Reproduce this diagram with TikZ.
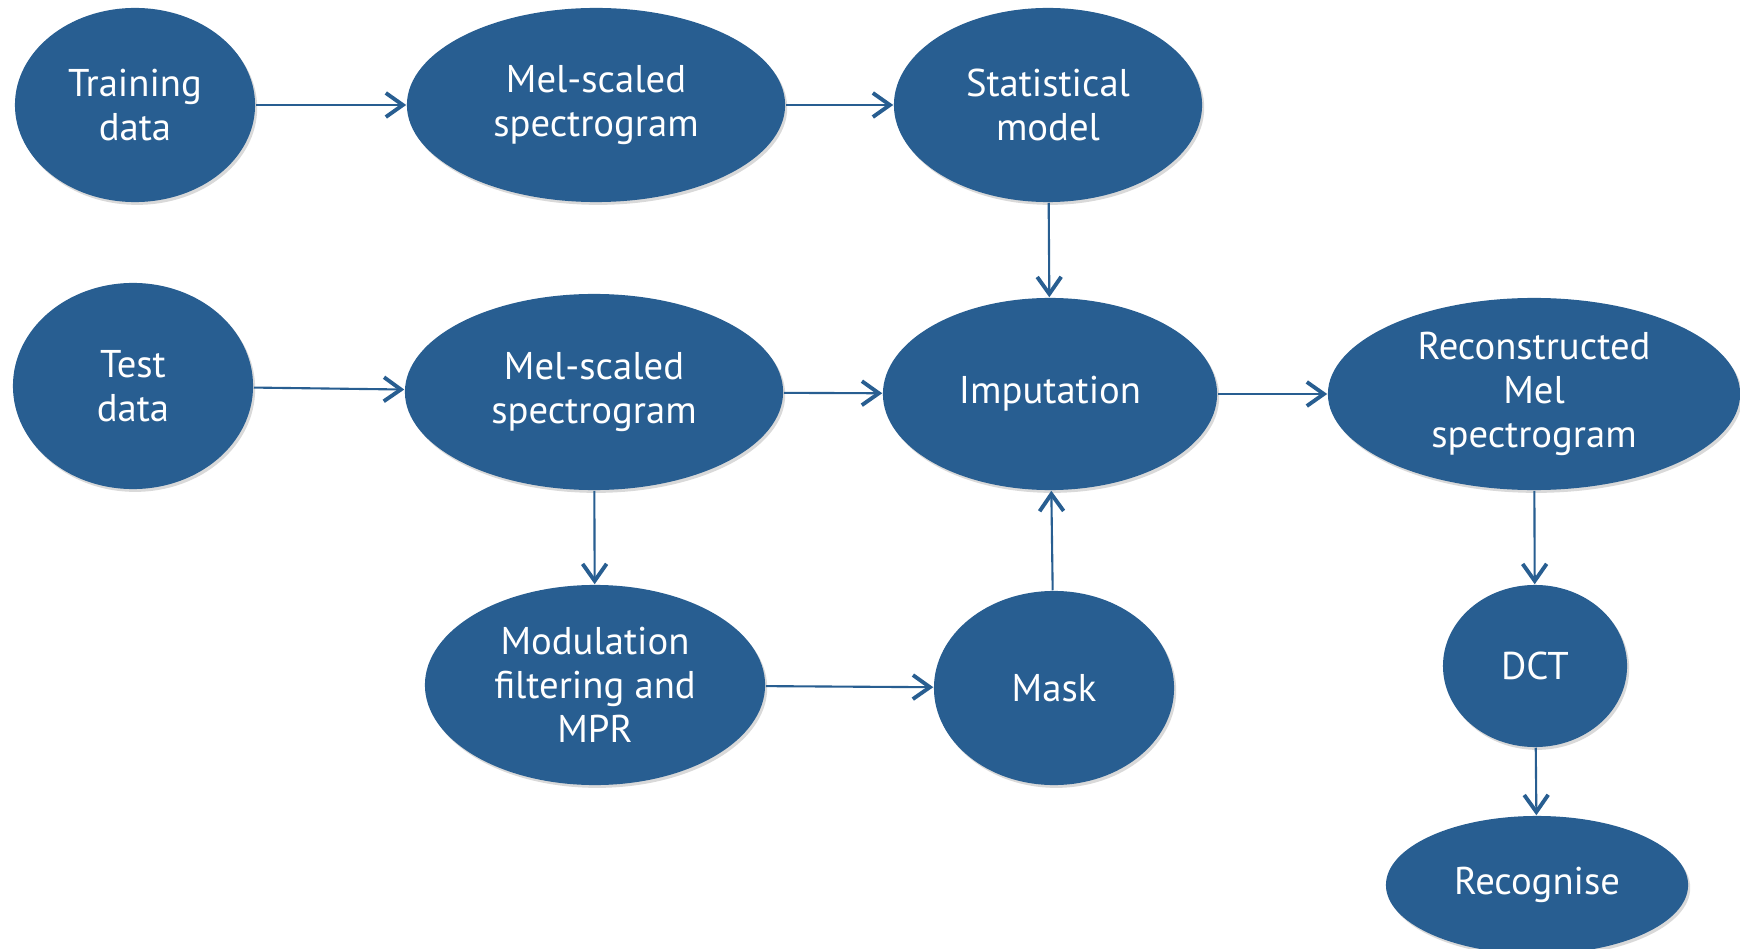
\documentclass[tikz,border=0pt]{standalone}
\usepackage{fontspec}
\setmainfont{PT Sans}
\usetikzlibrary{shapes.geometric,shadows,arrows.meta}
\definecolor{stepblue}{RGB}{40,94,145}
\tikzset{
  blob/.style={ellipse, fill=stepblue, text=white, align=center, inner sep=0pt,
    font=\fontsize{11}{12.5}\selectfont,
    drop shadow={opacity=0.3, shadow xshift=0.6pt, shadow yshift=-0.8pt}},
  flow/.style={draw=stepblue, line width=0.6pt,
    -{Straight Barb[length=1.7mm,width=2.4mm,line width=1.1pt]}}
}
\begin{document}
\begin{tikzpicture}[x=0.01cm,y=-0.01cm]
  \useasboundingbox (0,0) rectangle (1740,949);

  % training branch
  \node[blob, minimum width=2.40cm, minimum height=1.94cm] (train) at (135,105) {Training\\data};
  \node[blob, minimum width=3.78cm, minimum height=1.94cm] (melA) at (596,105) {Mel-scaled\\spectrogram};
  \node[blob, minimum width=3.08cm, minimum height=1.94cm] (stat) at (1048,105) {Statistical\\model};

  % test branch
  \node[blob, minimum width=2.40cm, minimum height=2.06cm] (test) at (133,386) {Test\\data};
  \node[blob, minimum width=3.78cm, minimum height=1.96cm] (melB) at (594,392) {Mel-scaled\\spectrogram};
  \node[blob, minimum width=3.34cm, minimum height=1.92cm] (imp) at (1050,394) {Imputation};
  \node[blob, minimum width=4.12cm, minimum height=1.92cm] (recon) at (1534,394) {Reconstructed\\Mel\\spectrogram};

  \node[blob, minimum width=3.40cm, minimum height=2.00cm] (modf) at (595,685) {Modulation\\filtering and\\MPR};
  \node[blob, minimum width=2.40cm, minimum height=1.94cm] (mask) at (1054,688) {Mask};
  \node[blob, minimum width=1.84cm, minimum height=1.62cm] (dct) at (1535,666) {DCT};
  \node[blob, minimum width=3.02cm, minimum height=1.38cm] (recog) at (1537,885) {Recognise};

  \draw[flow] (train) -- (melA);
  \draw[flow] (melA) -- (stat);
  \draw[flow] (stat) -- (imp);
  \draw[flow] (test) -- (melB);
  \draw[flow] (melB) -- (imp);
  \draw[flow] (imp) -- (recon);
  \draw[flow] (melB) -- (modf);
  \draw[flow] (modf) -- (mask);
  \draw[flow] (mask) -- (imp);
  \draw[flow] (recon) -- (dct);
  \draw[flow] (dct) -- (recog);
\end{tikzpicture}
\end{document}
